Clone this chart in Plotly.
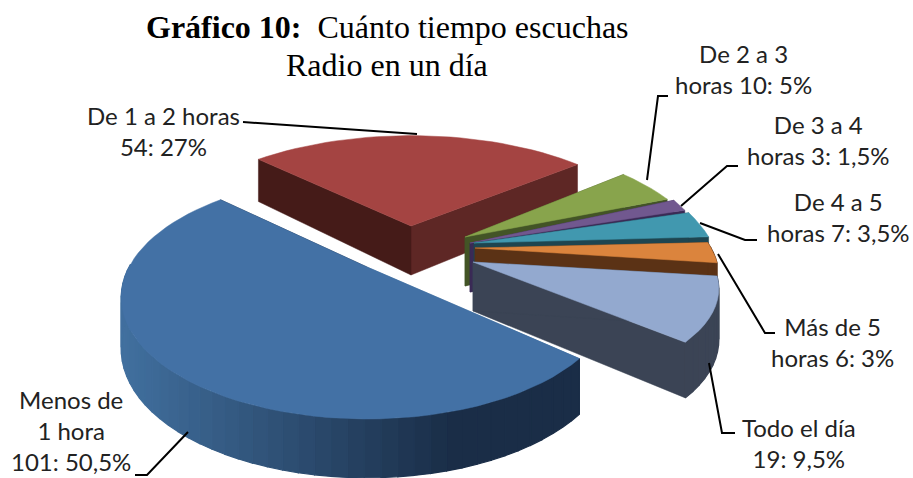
import math
import plotly.graph_objects as go

# ---- data ----
categories = ["Menos de 1 hora", "De 1 a 2 horas", "De 2 a 3 horas", "De 3 a 4 horas",
              "De 4 a 5 horas", "Más de 5 horas", "Todo el día"]
counts = [101, 54, 10, 3, 7, 6, 19]
label_texts = ["Menos de<br>1 hora<br>101: 50,5%", "De 1 a 2 horas<br>54: 27%",
               "De 2 a 3<br>horas 10: 5%", "De 3 a 4<br>horas 3: 1,5%",
               "De 4 a 5<br>horas 7: 3,5%", "Más de 5<br>horas 6: 3%",
               "Todo el día<br>19: 9,5%"]

# ---- style / layout ----
top_colors = ["#4371a5", "#a44442", "#88a44c", "#71588f", "#4198af", "#db843d", "#93a9cf"]
wall_near = ["#41709f", "#451b18", "#435426", "#3a2a55", "#1e4550", "#5b3215", "#3b4455"]
wall_far = ["#1a2d47", "#5e2725", "#435426", "#3a2a55", "#1e4550", "#5b3215", "#3b4455"]
slice_cx = [367, 411, 465, 470, 474, 475, 473]
slice_cy = [267, 226, 237, 243, 243, 248, 262]
slice_r = [238, 248, 236, 238, 238, 236, 238]
slice_ry = [114, 113, 115, 130, 120, 105, 100]
start_deg = 42.0
persp = 0.25
depth_base = 49.0
draw_order = [1, 2, 3, 4, 5, 0, 6]

leaders = [
    ([135, 147, 188], [475, 475, 432]),
    ([243, 417], [122, 134]),
    ([668, 658, 647], [96, 96, 180]),
    ([738, 727, 681], [166, 166, 206]),
    ([700, 745, 757], [223, 240, 240]),
    ([718, 765, 775], [254, 333, 333]),
    ([709, 722, 735], [363, 433, 433]),
]
label_pos = [(71, 430), (163, 131), (743, 69), (818, 140), (838, 217), (832, 342), (799, 443)]


def hexmix(a, b, t):
    ca = [int(a[i:i + 2], 16) for i in (1, 3, 5)]
    cb = [int(b[i:i + 2], 16) for i in (1, 3, 5)]
    return "rgb(%d,%d,%d)" % tuple(round(p + (q - p) * t) for p, q in zip(ca, cb))


def project(i, a):
    X, Y = math.cos(a), math.sin(a)
    s = 1 / (1 - persp * Y)
    return slice_cx[i] + slice_r[i] * X * s, slice_cy[i] + slice_ry[i] * Y * s, depth_base * (1 + 0.2 * Y)


def poly(x, y, color, w=0.5):
    return go.Scatter(x=x, y=y, mode="lines", fill="toself", fillcolor=color,
                      line=dict(color=color, width=w), hoverinfo="skip", showlegend=False)


total = sum(counts)
angles = [math.radians(start_deg)]
for v in counts:
    angles.append(angles[-1] + 2 * math.pi * v / total)

fig = go.Figure()
for i in draw_order:
    a0, a1 = angles[i], angles[i + 1]
    n = max(4, int((a1 - a0) / math.radians(3)))
    arc = [project(i, a0 + (a1 - a0) * k / n) for k in range(n + 1)]
    cx, cy = slice_cx[i], slice_cy[i]
    xs = [p[0] for p in arc]
    xmin, xmax = min(xs), max(xs)
    # cut faces
    for end, col in ((arc[-1], wall_far[i]), (arc[0], wall_near[i])):
        fig.add_trace(poly([cx, end[0], end[0], cx, cx],
                           [cy, end[1], end[1] + end[2], cy + depth_base, cy], col))
    # outer wall, shaded by screen position
    for k in range(n):
        mid = a0 + (a1 - a0) * (k + 0.5) / n
        if math.sin(mid) < -0.05:
            continue
        p, q = arc[k], arc[k + 1]
        t = min(1.0, ((p[0] + q[0]) / 2 - xmin) / (xmax - xmin) / 0.72)
        col = hexmix(wall_near[i], wall_far[i], t)
        fig.add_trace(poly([p[0], q[0], q[0], p[0], p[0]],
                           [p[1], q[1], q[1] + q[2], p[1] + p[2], p[1]], col, 1.2))
    # top face
    fig.add_trace(poly([cx] + xs + [cx], [cy] + [p[1] for p in arc] + [cy], top_colors[i]))

for lx, ly in leaders:
    fig.add_trace(go.Scatter(x=lx, y=ly, mode="lines", line=dict(color="black", width=2),
                             hoverinfo="skip", showlegend=False))

for txt, (lx, ly) in zip(label_texts, label_pos):
    fig.add_annotation(x=lx, y=ly, xref="x", yref="y", text=txt, showarrow=False, align="center",
                       font=dict(family="Lato", size=24, color="#222222"))

title_font = dict(family="Liberation Serif", size=32, color="black")
fig.add_annotation(x=387, y=27, xref="x", yref="y", showarrow=False,
                   text="<b>Gráfico 10:</b>  Cuánto tiempo escuchas", font=title_font)
fig.add_annotation(x=387, y=65, xref="x", yref="y", showarrow=False,
                   text="Radio en un día", font=title_font)

fig.update_layout(width=913, height=478, margin=dict(l=0, r=0, t=0, b=0),
                  paper_bgcolor="white", plot_bgcolor="white",
                  xaxis=dict(range=[0, 913], visible=False, fixedrange=True),
                  yaxis=dict(range=[478, 0], visible=False, fixedrange=True))
fig.write_html("out.html", config=dict(displayModeBar=False),
               post_script="document.body.style.margin='0';document.body.style.overflow='hidden';")
